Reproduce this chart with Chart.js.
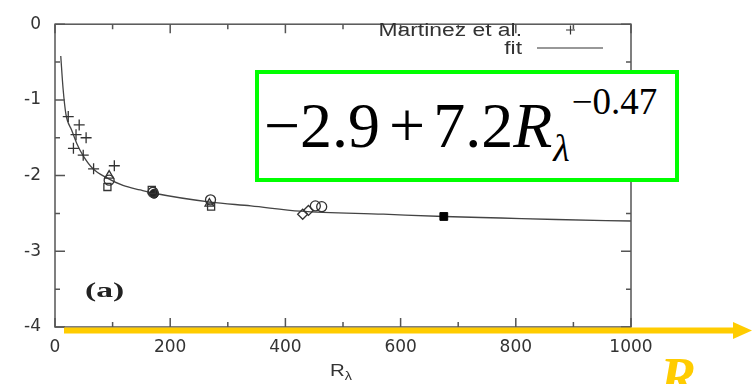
<!DOCTYPE html>
<html><head><meta charset="utf-8">
<script src="https://cdn.jsdelivr.net/npm/chart.js@4/dist/chart.umd.min.js"></script>
<style>
html,body{margin:0;padding:0;background:#fff;}
#wrap{position:relative;width:755px;height:384px;overflow:hidden;background:#fff;}
#c{position:absolute;left:0;top:0;}
#box{position:absolute;left:255px;top:70px;width:424px;height:112px;box-sizing:border-box;border:4px solid #00ff00;background:#fff;}
#formula{position:absolute;left:264px;top:94px;font-family:"Liberation Serif","Times New Roman",serif;font-size:64px;line-height:64px;color:#000;white-space:nowrap;}
#formula i{font-style:italic;}
#formula .op{margin:0 8px 0 9px;}
#formula .sub{position:relative;top:14px;font-size:38px;font-style:italic;margin-left:1px;}
#formula .sup{position:relative;top:-33px;font-size:37px;margin-left:2px;}
#atitle{position:absolute;left:330px;top:361px;font-family:"Liberation Sans",Arial,sans-serif;font-size:17px;color:#333;transform:scaleX(1.2);transform-origin:left top;white-space:nowrap;}
#atitle sub{font-size:12px;vertical-align:-4px;}
#lab{position:absolute;left:85px;top:278px;font-family:"Liberation Serif","Times New Roman",serif;font-weight:bold;font-size:21px;color:#222;transform:scaleX(1.6);transform-origin:left top;white-space:nowrap;}
#bigR{position:absolute;left:660px;top:350px;font-family:"Liberation Serif","Times New Roman",serif;font-weight:bold;font-style:italic;font-size:54px;line-height:54px;color:#FFCC00;white-space:nowrap;}
</style>
</head><body>
<div id="wrap">
<canvas id="c" width="755" height="384"></canvas>
<div id="box"></div>
<div id="formula">&minus;2.9<span class="op">+</span>7.2<i>R</i><span class="sub">&lambda;</span><span class="sup">&minus;0.47</span></div>
<div id="atitle">R<sub>&lambda;</sub></div>
<div id="lab">(a)</div>
<div id="bigR">R</div>
</div>
<script>
// ---- data ----
const xTickValues = [0, 200, 400, 600, 800, 1000];
const xTickLabels = ['0', '200', '400', '600', '800', '1000'];
const yTickValues = [-4, -3, -2, -1, 0];
const yTickLabels = ['-4', '-3', '-2', '-1', '0'];

const martinezX = [23, 42, 36.5, 54, 32, 49, 67, 103];
const martinezY = [-1.22, -1.33, -1.46, -1.50, -1.64, -1.73, -1.91, -1.87];

const fitX = [10, 14, 19, 29, 38, 49, 66, 90, 118, 148, 170, 270, 340, 426, 570, 675, 774, 870, 1000];
const fitY = [-0.42, -0.85, -1.19, -1.40, -1.58, -1.74, -1.91, -2.03, -2.13, -2.19, -2.23, -2.35, -2.40, -2.47, -2.51, -2.54, -2.56, -2.58, -2.60];

const triX = [94, 268];
const triY = [-2.00, -2.37];
const circX = [94, 170, 270, 452, 463];
const circY = [-2.06, -2.22, -2.32, -2.40, -2.41];
const sqX = [91, 168, 271];
const sqY = [-2.15, -2.19, -2.41];
const fcircX = [172];
const fcircY = [-2.24];
const diaX = [430, 440];
const diaY = [-2.51, -2.46];
const fsqX = [675];
const fsqY = [-2.54];

const pts = (xs, ys) => xs.map((x, i) => ({x: x, y: ys[i]}));
const ink = '#333';

const gnuplotPlugin = {
  id: 'gnuplotDeco',
  afterDatasetsDraw(chart) {
    const ctx = chart.ctx, a = chart.chartArea;
    const xs = chart.scales.x, ys = chart.scales.y;
    ctx.save();
    ctx.strokeStyle = '#555';
    ctx.lineWidth = 1.5;
    ctx.strokeRect(a.left, a.top, a.right - a.left, a.bottom - a.top);
    ctx.beginPath();
    for (let v = xs.min; v <= xs.max + 1e-9; v += 100) {
      const p = xs.getPixelForValue(v);
      const L = (v % 200 === 0) ? 9 : 5;
      ctx.moveTo(p, a.bottom); ctx.lineTo(p, a.bottom - L);
      ctx.moveTo(p, a.top); ctx.lineTo(p, a.top + L);
    }
    for (let v = ys.min; v <= ys.max + 1e-9; v += 0.5) {
      const p = ys.getPixelForValue(v);
      const L = (Math.abs(v % 1) < 1e-9) ? 10 : 5;
      ctx.moveTo(a.left, p); ctx.lineTo(a.left + L, p);
      ctx.moveTo(a.right, p); ctx.lineTo(a.right - L, p);
    }
    ctx.stroke();
    // key (legend) gnuplot style: text right aligned, sample on the right
    const ds = chart.data.datasets;
    ctx.fillStyle = ink;
    ctx.font = '18px "Liberation Sans", Arial, sans-serif';
    ctx.textBaseline = 'alphabetic';
    ctx.textAlign = 'right';
    const sx = 1.27;
    ctx.save();
    ctx.translate(522, 0);
    ctx.scale(sx, 1);
    ctx.fillText(ds[0].label, 0, 36);
    ctx.fillText(ds[1].label, 0, 54);
    ctx.restore();
    ctx.strokeStyle = ink;
    ctx.lineWidth = 1.2;
    ctx.beginPath();
    ctx.moveTo(566, 30); ctx.lineTo(575, 30);
    ctx.moveTo(570.5, 25.5); ctx.lineTo(570.5, 34.5);
    ctx.moveTo(537, 48); ctx.lineTo(603, 48);
    ctx.stroke();
    // yellow arrow
    ctx.fillStyle = '#FFCC00';
    ctx.fillRect(64, 327.5, 670, 6);
    ctx.beginPath();
    ctx.moveTo(733, 322); ctx.lineTo(752, 330.5); ctx.lineTo(733, 339);
    ctx.closePath();
    ctx.fill();
    ctx.restore();
  }
};

new Chart(document.getElementById('c'), {
  type: 'scatter',
  data: {
    datasets: [
      {label: 'Martinez et al.', data: pts(martinezX, martinezY), pointStyle: 'cross', pointRadius: 5.5, borderColor: ink, borderWidth: 1.3, order: 1},
      {label: 'fit', type: 'line', data: pts(fitX, fitY), showLine: true, pointRadius: 0, borderColor: '#444', borderWidth: 1.3, cubicInterpolationMode: 'monotone', fill: false, order: 9},
      {label: 'triangles', data: pts(triX, triY), pointStyle: 'triangle', pointRadius: 5, borderColor: ink, backgroundColor: 'rgba(255,255,255,0)', borderWidth: 1.3, order: 1},
      {label: 'circles', data: pts(circX, circY), pointStyle: 'circle', pointRadius: 5, borderColor: ink, backgroundColor: 'rgba(255,255,255,0)', borderWidth: 1.3, order: 1},
      {label: 'squares', data: pts(sqX, sqY), pointStyle: 'rect', pointRadius: 5, borderColor: ink, backgroundColor: 'rgba(255,255,255,0)', borderWidth: 1.3, order: 1},
      {label: 'filled circles', data: pts(fcircX, fcircY), pointStyle: 'circle', pointRadius: 4.5, borderColor: '#222', backgroundColor: '#222', borderWidth: 1, order: 1},
      {label: 'diamonds', data: pts(diaX, diaY), pointStyle: 'rectRot', pointRadius: 5, borderColor: ink, backgroundColor: 'rgba(255,255,255,0)', borderWidth: 1.3, order: 1},
      {label: 'filled squares', data: pts(fsqX, fsqY), pointStyle: 'rect', pointRadius: 5.5, borderColor: '#000', backgroundColor: '#000', borderWidth: 1, order: 1}
    ]
  },
  options: {
    responsive: false,
    animation: false,
    devicePixelRatio: 1,
    layout: {padding: {left: 0, top: 14, right: 124, bottom: 0}},
    plugins: {legend: {display: false}, tooltip: {enabled: false}, title: {display: false}},
    scales: {
      x: {
        type: 'linear', min: 0, max: 1000,
        grid: {display: false, drawTicks: false},
        border: {display: false},
        afterBuildTicks: s => { s.ticks = xTickValues.map(v => ({value: v})); },
        afterFit: s => { s.height = 57; },
        ticks: {padding: 10, color: ink, font: {family: '"DejaVu Sans", sans-serif', size: 17},
                callback: (v) => xTickLabels[xTickValues.indexOf(v)], maxRotation: 0}
      },
      y: {
        type: 'linear', min: -4, max: 0,
        grid: {display: false, drawTicks: false},
        border: {display: false},
        afterBuildTicks: s => { s.ticks = yTickValues.map(v => ({value: v})); },
        afterFit: s => { s.width = 55; },
        ticks: {padding: 14, color: ink, font: {family: '"DejaVu Sans", sans-serif', size: 17},
                callback: (v) => yTickLabels[yTickValues.indexOf(v)]}
      }
    }
  },
  plugins: [gnuplotPlugin]
});
</script>
</body></html>
